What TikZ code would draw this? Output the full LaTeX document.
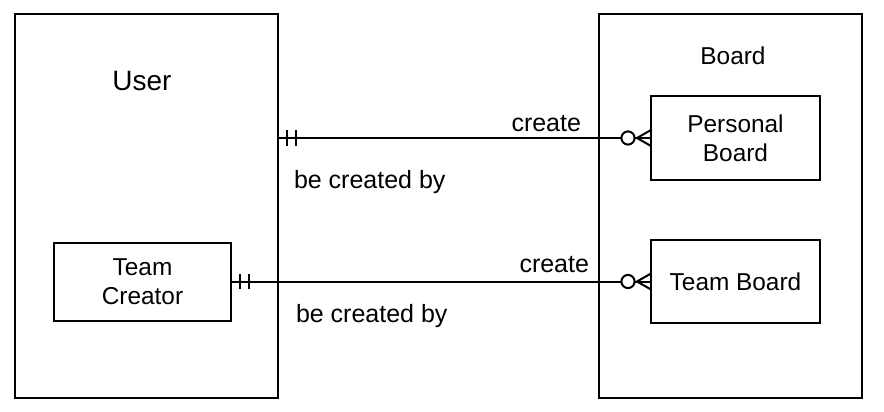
\documentclass[tikz,border=0pt]{standalone}
\usepackage{fontspec}
\setmainfont{Liberation Sans}
\usetikzlibrary{decorations.markings}

\tikzset{
    entity/.style={draw, rectangle, outer sep=0pt, align=center, font=\fontsize{12.2}{14.5}\selectfont},
    rel/.style={inner sep=0pt, font=\fontsize{12.5}{15}\selectfont},
    onemany/.style={postaction={decorate}, decoration={markings,
        mark=at position 4.5pt with {\draw (0,-3.9pt) -- (0,3.9pt);},
        mark=at position 9pt with {\draw (0,-3.9pt) -- (0,3.9pt);},
        mark=at position -11.5pt with {\draw[fill=white] (0,0) circle (3.3pt);},
        mark=at position -7pt with {\draw (7pt,4pt) -- (0,0) -- (7pt,-4pt);}}}
}

\begin{document}
\begin{tikzpicture}[x=0.5pt, y=-0.5pt, line width=1pt]
    \useasboundingbox (0,0) rectangle (884,412);
    % entities
    \node [entity, minimum width=131.5pt, minimum height=192pt] (user) at (146.5,206) {};
    \node [entity, minimum width=131.5pt, minimum height=192pt] (board) at (730.5,206) {};
    \node [font=\fontsize{14}{16}\selectfont] (usertitle) at (142,81) {User};
    \node [font=\fontsize{12.2}{15}\selectfont] (boardtitle) at (733,56) {Board};
    \node [entity, minimum width=88.5pt, minimum height=39pt] (tcreator) at (142.5,281.5) {Team\\Creator};
    \node [entity, minimum width=84.5pt, minimum height=42pt] (pboard) at (735.5,138) {Personal\\Board};
    \node [entity, minimum width=84.5pt, minimum height=41.5pt] (tboard) at (735.5,281.5) {Team Board};
    % relations
    \coordinate (ustart) at (user.east |- pboard.west);
    \draw [onemany] (ustart) -- (pboard.west);
    \draw [onemany] (tcreator.east) -- (tboard.west);
    \node [rel, anchor=base east] (create1) at (582,131) {create};
    \node [rel, anchor=base west] (created1) at (293,188) {be created by};
    \node [rel, anchor=base east] (create2) at (590,272) {create};
    \node [rel, anchor=base west] (created2) at (295,322) {be created by};
\end{tikzpicture}
\end{document}
